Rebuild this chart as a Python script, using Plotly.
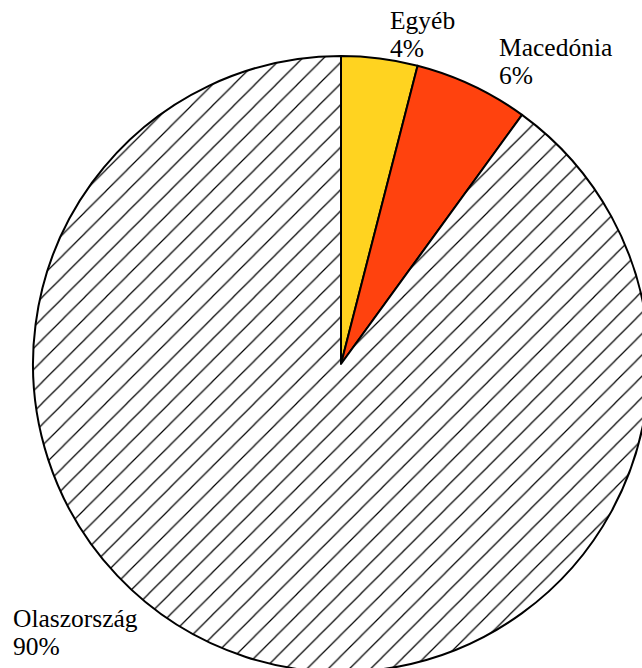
import plotly.graph_objects as go

# Data
labels = ["Egyéb", "Macedónia", "Olaszország"]
values = [4, 6, 90]
colors = ["#FFD320", "#FF420E", "#FFFFFF"]
patterns = ["", "", "/"]

W, H = 700, 700
FONT = "Liberation Serif, Times New Roman, Times, serif"
FS = 25.5

total = sum(values)
pct_text = [f"{round(v / total * 100)}%" for v in values]

fig = go.Figure(
    go.Pie(
        labels=labels,
        values=values,
        sort=False,
        direction="clockwise",
        rotation=0,
        textinfo="none",
        hoverinfo="label+percent",
        showlegend=False,
        marker=dict(
            colors=colors,
            line=dict(color="black", width=2),
            pattern=dict(shape=patterns, fgcolor="black", bgcolor=colors,
                         size=15, solidity=0.08),
        ),
        domain=dict(x=[33 / W, 649 / W], y=[1 - 672 / H, 1 - 56 / H]),
    )
)

# label placement (pixel left edge, pixel middle of first line)
label_pos = [(388, 20), (497, 47.4), (11, 618.4)]
line_gap = 28
annotations = []
for (lx, ly), name, pt in zip(label_pos, labels, pct_text):
    for i, t in enumerate([name, pt]):
        annotations.append(dict(
            x=lx / W, y=1 - (ly + i * line_gap) / H,
            xref="paper", yref="paper", xanchor="left", yanchor="middle",
            text=t, showarrow=False,
            font=dict(family=FONT, size=FS, color="black"),
        ))

fig.update_layout(
    width=W, height=H,
    margin=dict(l=0, r=0, t=0, b=0),
    paper_bgcolor="white",
    plot_bgcolor="white",
    annotations=annotations,
    font=dict(family=FONT),
)

fig.write_html(
    "out.html",
    config={"displayModeBar": False},
    post_script="document.body.style.margin='0';document.body.style.overflow='hidden';document.documentElement.style.overflow='hidden';",
)
